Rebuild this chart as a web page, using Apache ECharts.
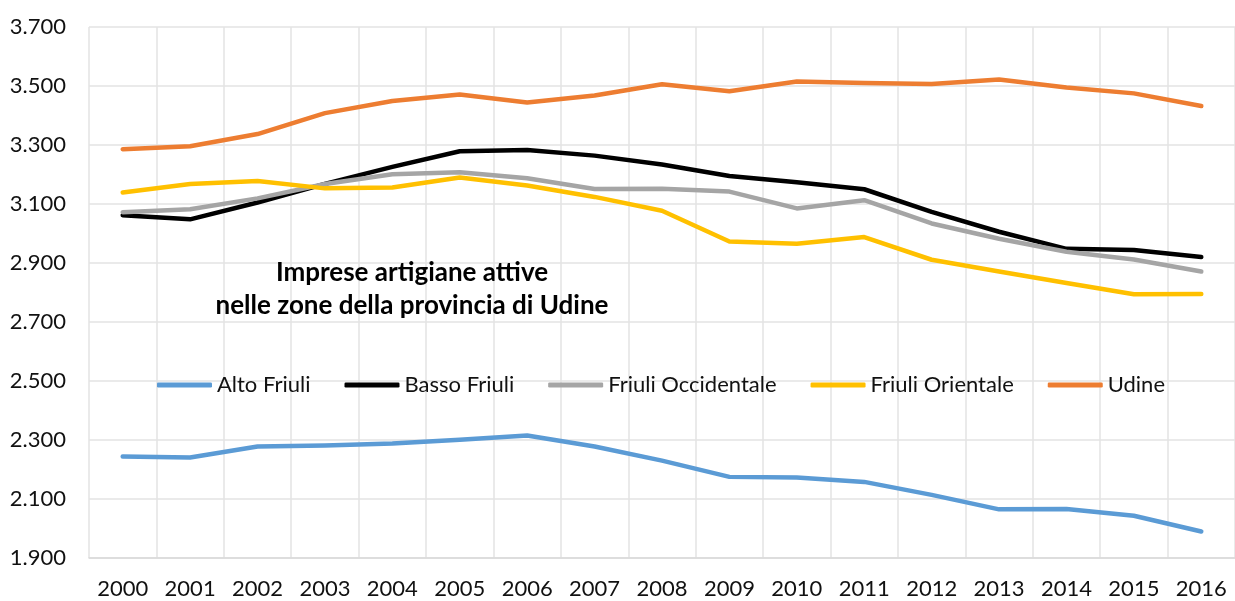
<!DOCTYPE html>
<html>
<head>
<meta charset="utf-8">
<script src="https://cdn.jsdelivr.net/npm/echarts@6/dist/echarts.min.js"></script>
<style>
  html, body { margin: 0; padding: 0; background: #fff; }
  #chart { width: 1235px; height: 601px; }
</style>
</head>
<body>
<div id="chart"></div>
<script>
// anni
const years = ['2000','2001','2002','2003','2004','2005','2006','2007','2008','2009','2010','2011','2012','2013','2014','2015','2016'];

// valori
const altoFriuli = [2244, 2241, 2278, 2281, 2288, 2301, 2315, 2278, 2230, 2175, 2173, 2158, 2114, 2065, 2066, 2043, 1990];
const bassoFriuli = [3062, 3048, 3105, 3168, 3226, 3279, 3283, 3264, 3234, 3195, 3174, 3150, 3073, 3006, 2948, 2944, 2920];
const friuliOccidentale = [3072, 3082, 3119, 3168, 3201, 3208, 3187, 3151, 3152, 3142, 3085, 3113, 3034, 2982, 2938, 2912, 2871];
const friuliOrientale = [3139, 3168, 3178, 3153, 3156, 3190, 3163, 3124, 3077, 2973, 2965, 2988, 2911, 2871, 2832, 2794, 2795];
const udine = [3286, 3296, 3337, 3408, 3449, 3471, 3444, 3468, 3506, 3482, 3515, 3510, 3507, 3522, 3495, 3475, 3432];

const seriesNames = ['Alto Friuli', 'Basso Friuli', 'Friuli Occidentale', 'Friuli Orientale', 'Udine'];
const seriesColors = ['#5b9bd5', '#000000', '#a5a5a5', '#ffc000', '#ed7d31'];
const seriesData = [altoFriuli, bassoFriuli, friuliOccidentale, friuliOrientale, udine];

const font = 'Lato, "Open Sans", sans-serif';

// separatore migliaia all'italiana
function fmt(v) {
  return String(v).replace(/\B(?=(\d{3})+(?!\d))/g, '.');
}

const chart = echarts.init(document.getElementById('chart'), null, { renderer: 'canvas' });

const option = {
  backgroundColor: '#ffffff',
  animation: false,
  textStyle: { fontFamily: font },
  title: {
    text: 'Imprese artigiane attive\nnelle zone della provincia di Udine',
    left: 407,
    top: 251,
    textAlign: 'center',
    textStyle: {
      fontFamily: font,
      fontSize: 26,
      fontWeight: 'bold',
      color: '#000',
      lineHeight: 33
    }
  },
  legend: {
    data: seriesNames,
    left: 152,
    top: 369,
    icon: 'roundRect',
    itemWidth: 55,
    itemHeight: 5,
    itemGap: 34,
    textStyle: { fontFamily: font, fontSize: 22, color: '#111' }
  },
  grid: {
    left: 89,
    right: -8,
    top: 27,
    bottom: 43,
    containLabel: false
  },
  xAxis: {
    type: 'category',
    data: years,
    boundaryGap: true,
    axisLine: { show: true, lineStyle: { color: '#d9d9d9', width: 1.5 } },
    axisTick: { show: false },
    axisLabel: { fontFamily: font, fontSize: 22, color: '#111', margin: 20 },
    splitLine: { show: true, lineStyle: { color: '#e3e3e3', width: 1.5 } }
  },
  yAxis: {
    type: 'value',
    min: 1900,
    max: 3700,
    interval: 200,
    axisLine: { show: false },
    axisTick: { show: false },
    axisLabel: {
      fontFamily: font,
      fontSize: 22,
      color: '#111',
      margin: 23,
      formatter: fmt
    },
    splitLine: { show: true, lineStyle: { color: '#e3e3e3', width: 1.5 } }
  },
  series: seriesNames.map((name, i) => ({
    name: name,
    type: 'line',
    data: seriesData[i],
    color: seriesColors[i],
    showSymbol: false,
    symbol: 'none',
    lineStyle: { width: 4.5, color: seriesColors[i], cap: 'round', join: 'round' }
  }))
};

chart.setOption(option);
</script>
</body>
</html>
